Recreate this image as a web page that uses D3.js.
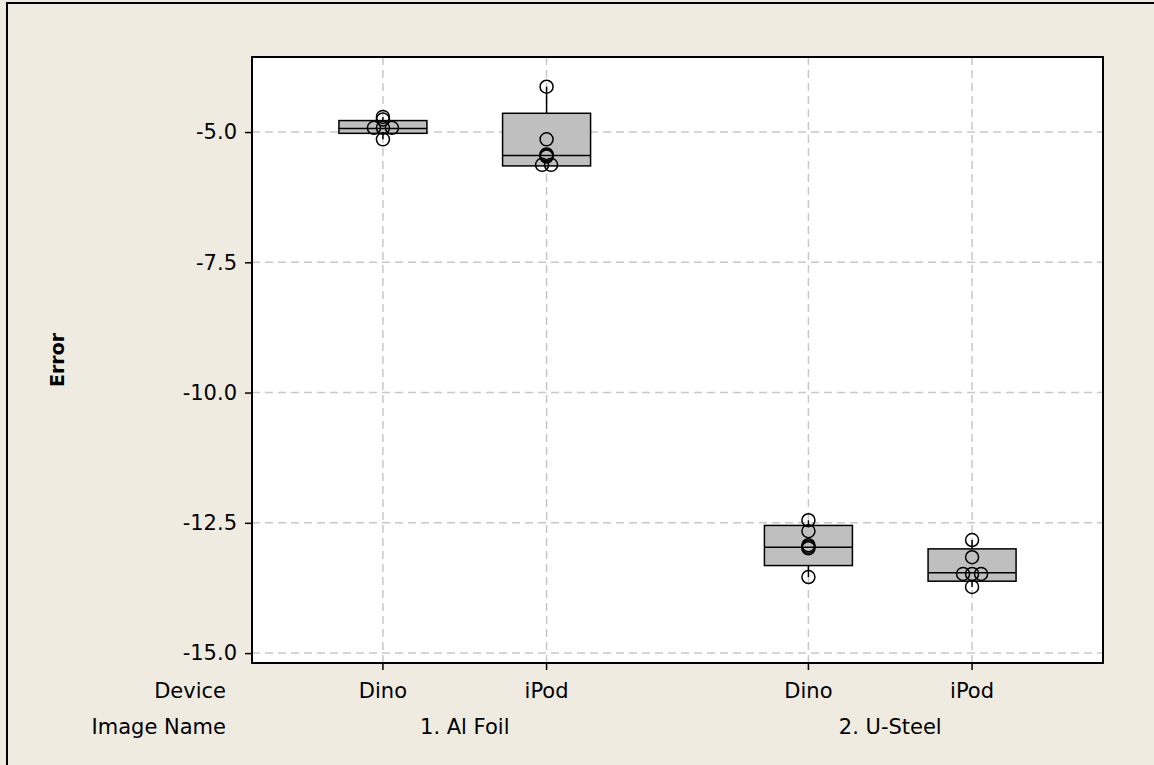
<!DOCTYPE html>
<html>
<head>
<meta charset="utf-8">
<script src="https://cdn.jsdelivr.net/npm/d3@7"></script>
<style>
  html, body { margin: 0; padding: 0; background: #efebe1; }
  svg { display: block; }
</style>
</head>
<body>
<div id="chart-container"></div>
<script>
// categories
const devices = ["Dino", "iPod", "Dino", "iPod"];
const imageNames = ["1. Al Foil", "2. U-Steel"];
const groupOf = [0, 0, 1, 1];

// box statistics
const q1 = [-5.025, -5.65, -13.32, -13.62];
const medians = [-4.93, -5.45, -12.97, -13.46];
const q3 = [-4.78, -4.64, -12.55, -13.0];
const whiskerLow = [-5.14, -5.65, -13.54, -13.73];
const whiskerHigh = [-4.71, -4.13, -12.45, -12.83];

// individual values
const pointsDino1 = [-4.71, -4.76, -4.92, -4.92, -4.92, -5.14];
const pointsIpod1 = [-4.13, -5.14, -5.43, -5.45, -5.47, -5.63, -5.63];
const pointsDino2 = [-12.45, -12.66, -12.93, -12.96, -12.99, -13.54];
const pointsIpod2 = [-12.83, -13.16, -13.48, -13.48, -13.48, -13.73];
const points = [pointsDino1, pointsIpod1, pointsDino2, pointsIpod2];

const yTicks = [-5.0, -7.5, -10.0, -12.5, -15.0];
const yTitle = "Error";
const rowLabels = ["Device", "Image Name"];

const W = 1154, H = 765;
const margin = { top: 57, right: 51, bottom: 102, left: 252 };
const width = W - margin.left - margin.right;
const height = H - margin.top - margin.bottom;
const font = "Tahoma, 'DejaVu Sans', sans-serif";
const fs = 21;

// positions: categories one unit apart, extra gap between image groups
const groupGap = 0.6;
const pos = devices.map((d, i) => i + groupOf[i] * groupGap);

const x = d3.scaleLinear().domain([-0.8, 4.4]).range([0, width]);
const y = d3.scaleLinear().domain([-3.56, -15.19]).range([0, height]);

const svg = d3.select("#chart-container")
  .append("svg")
  .attr("width", W)
  .attr("height", H);

// outer frame
svg.append("rect")
  .attr("x", 7).attr("y", 3)
  .attr("width", W + 10).attr("height", H + 10)
  .attr("fill", "#efebe1")
  .attr("stroke", "#000").attr("stroke-width", 2);

const g = svg.append("g")
  .attr("transform", `translate(${margin.left},${margin.top})`);

g.append("rect")
  .attr("width", width).attr("height", height)
  .attr("fill", "#fff");

// grid
g.selectAll(".hgrid").data(yTicks).join("line")
  .attr("x1", 0).attr("x2", width)
  .attr("y1", d => y(d)).attr("y2", d => y(d))
  .attr("stroke", "#c8c8c8").attr("stroke-width", 1.5)
  .attr("stroke-dasharray", "8,5");
g.selectAll(".vgrid").data(pos).join("line")
  .attr("x1", d => x(d)).attr("x2", d => x(d))
  .attr("y1", 0).attr("y2", height)
  .attr("stroke", "#c8c8c8").attr("stroke-width", 1.5)
  .attr("stroke-dasharray", "8,5");

// boxes
const halfBox = 44;
const boxes = g.selectAll(".box").data(pos).join("g");
boxes.append("line")
  .attr("x1", d => x(d)).attr("x2", d => x(d))
  .attr("y1", (d, i) => y(whiskerHigh[i])).attr("y2", (d, i) => y(q3[i]))
  .attr("stroke", "#000").attr("stroke-width", 1.5);
boxes.append("line")
  .attr("x1", d => x(d)).attr("x2", d => x(d))
  .attr("y1", (d, i) => y(q1[i])).attr("y2", (d, i) => y(whiskerLow[i]))
  .attr("stroke", "#000").attr("stroke-width", 1.5);
boxes.append("rect")
  .attr("x", d => x(d) - halfBox)
  .attr("y", (d, i) => y(q3[i]))
  .attr("width", halfBox * 2)
  .attr("height", (d, i) => y(q1[i]) - y(q3[i]))
  .attr("fill", "#bfbfbf").attr("stroke", "#000").attr("stroke-width", 1.5);
boxes.append("line")
  .attr("x1", d => x(d) - halfBox).attr("x2", d => x(d) + halfBox)
  .attr("y1", (d, i) => y(medians[i])).attr("y2", (d, i) => y(medians[i]))
  .attr("stroke", "#000").attr("stroke-width", 1.5);

// individual values, equal values spread side by side
const step = 9;
points.forEach((vals, i) => {
  const counts = d3.rollup(vals, v => v.length, v => v);
  const seen = new Map();
  const pts = vals.map(v => {
    const n = counts.get(v);
    const k = seen.get(v) || 0;
    seen.set(v, k + 1);
    return { v, dx: (k - (n - 1) / 2) * step };
  });
  g.selectAll(null).data(pts).join("circle")
    .attr("cx", d => x(pos[i]) + d.dx)
    .attr("cy", d => y(d.v))
    .attr("r", 6.5)
    .attr("fill", "none")
    .attr("stroke", "#000").attr("stroke-width", 1.5);
});

// frame
g.append("rect")
  .attr("width", width).attr("height", height)
  .attr("fill", "none").attr("stroke", "#000").attr("stroke-width", 2);

// y axis
const yAxis = g.append("g")
  .call(d3.axisLeft(y).tickValues(yTicks).tickSize(7).tickPadding(8));
yAxis.select(".domain").remove();
yAxis.selectAll(".tick line").attr("stroke", "#000").attr("stroke-width", 1.5);
yAxis.selectAll("text")
  .attr("font-family", font).attr("font-size", fs).attr("fill", "#000")
  .text(d => d3.format(".1f")(d).replace("−", "-"));

// x ticks
g.selectAll(".xtick").data(pos).join("line")
  .attr("x1", d => x(d)).attr("x2", d => x(d))
  .attr("y1", height).attr("y2", height + 7)
  .attr("stroke", "#000").attr("stroke-width", 1.5);

const row1 = height + 29, row2 = height + 65;
g.selectAll(".devlabel").data(devices).join("text")
  .attr("x", (d, i) => x(pos[i])).attr("y", row1)
  .attr("text-anchor", "middle").attr("dominant-baseline", "middle")
  .attr("font-family", font).attr("font-size", fs)
  .text(d => d);
g.selectAll(".grplabel").data(imageNames).join("text")
  .attr("x", (d, gi) => x(d3.mean(pos.filter((p, i) => groupOf[i] === gi))))
  .attr("y", row2)
  .attr("text-anchor", "middle").attr("dominant-baseline", "middle")
  .attr("font-family", font).attr("font-size", fs)
  .text(d => d);
g.selectAll(".rowlabel").data(rowLabels).join("text")
  .attr("x", -26).attr("y", (d, i) => i === 0 ? row1 : row2)
  .attr("text-anchor", "end").attr("dominant-baseline", "middle")
  .attr("font-family", font).attr("font-size", fs)
  .text(d => d);

// y title
svg.append("text")
  .attr("transform", `translate(64,${margin.top + height / 2}) rotate(-90)`)
  .attr("text-anchor", "middle")
  .attr("font-family", font).attr("font-size", 19).attr("font-weight", "bold")
  .text(yTitle);
</script>
</body>
</html>
